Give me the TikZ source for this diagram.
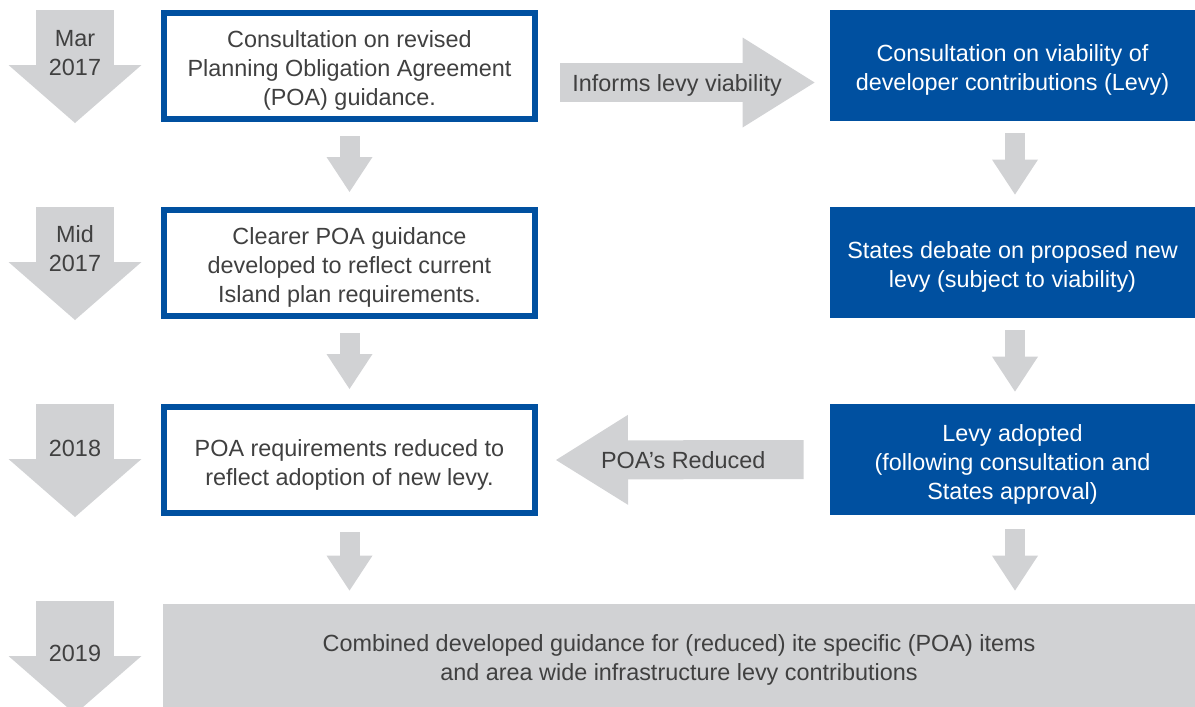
\documentclass[tikz,border=0pt]{standalone}
\usepackage{fontspec}
\setmainfont{Liberation Sans}
\usetikzlibrary{arrows.meta,calc}
\definecolor{poablue}{HTML}{0050A0}
\definecolor{arrowgray}{HTML}{D1D2D4}
\definecolor{txtgray}{HTML}{404040}
\newcommand\topstrut{\rule{0pt}{13.1pt}}
\newcommand\botstrut{\rule[-2.5pt]{0pt}{2.5pt}}

\begin{document}
\begin{tikzpicture}[x=0.5pt,y=-0.5pt,
  font=\fontsize{11.7}{14.5}\selectfont,
  leftbox/.style={draw=poablue,line width=3pt,fill=white,text=txtgray,
    minimum width=185.5pt,minimum height=53pt,align=center},
  rightbox/.style={fill=poablue,text=white,minimum width=182.5pt,
    minimum height=55.5pt,align=center},
  datearrow/.style={draw=arrowgray,line width=39pt,
    -{Triangle[width=66.5pt,length=29pt,line width=0pt]}},
  linkarrow/.style={draw=arrowgray,line width=10pt,
    -{Triangle[width=23pt,length=17.5pt,line width=0pt]}},
  sidearrow/.style={draw=arrowgray,line width=19.5pt,
    -{Triangle[width=45pt,length=36pt,line width=0pt]}},
  datelabel/.style={text=txtgray,align=center}]
 \useasboundingbox (0,0) rectangle (1195,707);

 \draw[datearrow] (75,10) -- (75,123);
 \draw[datearrow] (75,207) -- (75,320);
 \draw[datearrow] (75,404) -- (75,517);
 \draw[datearrow] (75,601) -- (75,714);
 \node[datelabel] (d1) at (75,53) {Mar\\2017};
 \node[datelabel] (d2) at (75,248.5) {Mid\\2017};
 \node[datelabel] (d3) at (75,448) {2018};
 \node[datelabel] (d4) at (75,653) {2019};

 \node[leftbox] (l1) at (349.5,66) {\topstrut Consultation on revised\\Planning Obligation Agreement\\(POA) guidance.\botstrut};
 \node[leftbox] (l2) at (349.5,263) {\topstrut Clearer POA guidance\\developed to reflect current\\Island plan requirements.\botstrut};
 \node[leftbox] (l3) at (349.5,460) {\topstrut POA requirements reduced to\\reflect adoption of new levy.\botstrut};
 \node[rightbox] (r1) at (1012.5,65.5) {\topstrut Consultation on viability of\\developer contributions (Levy)\botstrut};
 \node[rightbox] (r2) at (1012.5,262.5) {\topstrut States debate on proposed new\\levy (subject to viability)\botstrut};
 \node[rightbox] (r3) at (1012.5,459.5) {\topstrut Levy adopted\\(following consultation and\\States approval)\botstrut};
 \node[fill=arrowgray,text=txtgray,minimum width=516pt,minimum height=51.5pt,align=center]
   (all) at (679,655.5) {\topstrut Combined developed guidance for (reduced) ite specific (POA) items\\and area wide infrastructure levy contributions\botstrut};

 \draw[linkarrow] ($(l1.south)+(0,14)$) -- ($(l2.north)+(0,-15)$);
 \draw[linkarrow] ($(l2.south)+(0,14)$) -- ($(l3.north)+(0,-15)$);
 \draw[linkarrow] ($(l3.south)+(0,16)$) -- ($(l3.south |- all.north)+(0,-13)$);
 \draw[linkarrow] ($(r1.south)+(2.5,12)$) -- ($(r2.north)+(2.5,-12)$);
 \draw[linkarrow] ($(r2.south)+(2.5,12)$) -- ($(r3.north)+(2.5,-12)$);
 \draw[linkarrow] ($(r3.south)+(2.5,14)$) -- ($(r3.south |- all.north)+(2.5,-13)$);

 \draw[sidearrow] ($(l1.east)+(22,16.5)$) -- ($(r1.west)+(-15,17)$)
   node[pos=0.46,yshift=-1.5pt,text=txtgray] (inf) {Informs levy viability};
 \draw[sidearrow] ($(r3.west)+(-26,0)$) -- ($(l3.east)+(18,0)$)
   node[pos=0.486,text=txtgray] (red) {POA's Reduced};
\end{tikzpicture}
\end{document}
